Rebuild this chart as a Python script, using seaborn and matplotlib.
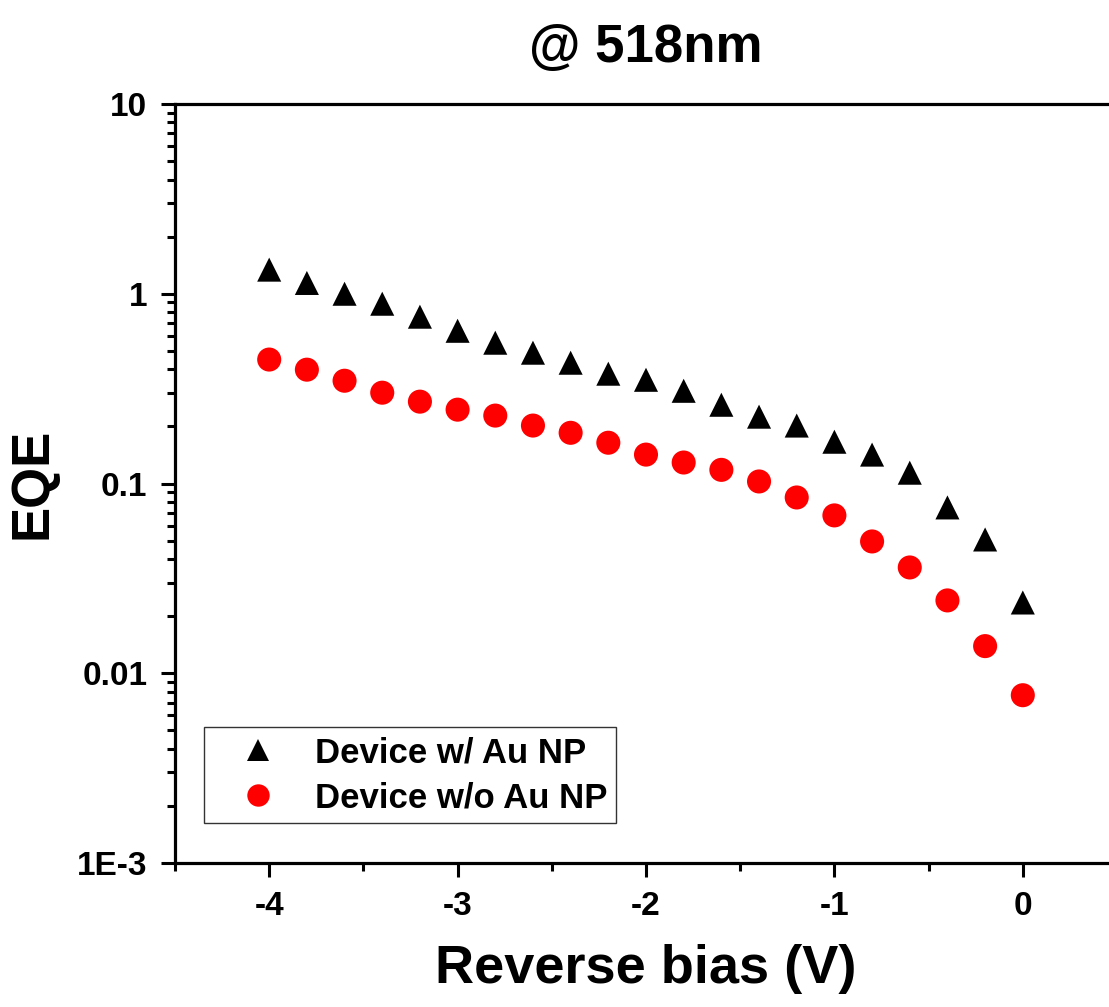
import numpy as np
import pandas as pd
import matplotlib
matplotlib.use("Agg")
import matplotlib.pyplot as plt
import matplotlib.ticker as mticker
import seaborn as sns

bias = [-4.0, -3.8, -3.6, -3.4, -3.2, -3.0, -2.8, -2.6, -2.4, -2.2, -2.0,
        -1.8, -1.6, -1.4, -1.2, -1.0, -0.8, -0.6, -0.4, -0.2, 0.0]
eqe_with_au = [1.34, 1.14, 1.0, 0.886, 0.757, 0.638, 0.552, 0.489, 0.433, 0.379, 0.352,
               0.308, 0.26, 0.225, 0.202, 0.166, 0.142, 0.114, 0.0748, 0.0507, 0.0236]
eqe_without_au = [0.45, 0.398, 0.348, 0.301, 0.27, 0.245, 0.228, 0.202, 0.185, 0.164, 0.142,
                  0.129, 0.118, 0.1025, 0.0844, 0.0679, 0.0495, 0.0361, 0.0242, 0.0139, 0.00766]
series_names = ["Device w/ Au NP", "Device w/o Au NP"]
ytick_vals = [1e-3, 1e-2, 1e-1, 1, 10]
ytick_labels = ["1E-3", "0.01", "0.1", "1", "10"]
xtick_vals = [-4, -3, -2, -1, 0]
xtick_labels = ["-4", "-3", "-2", "-1", "0"]

df = pd.DataFrame({
    "bias": bias * 2,
    "eqe": eqe_with_au + eqe_without_au,
    "series": [series_names[0]] * len(bias) + [series_names[1]] * len(bias),
})

sns.set_theme(style="white")
plt.rcParams['font.family'] = ['Liberation Sans', 'DejaVu Sans']
plt.rcParams['font.weight'] = 'bold'
plt.rcParams['text.color'] = 'black'
plt.rcParams['axes.labelcolor'] = 'black'
plt.rcParams['xtick.color'] = 'black'
plt.rcParams['ytick.color'] = 'black'

fig = plt.figure(figsize=(11.09, 10.07), dpi=100)
ax = fig.add_axes([175/1109, 1 - 863/1007, (1117 - 175)/1109, (863 - 104)/1007])

sns.scatterplot(data=df, x="bias", y="eqe", hue="series", style="series",
                hue_order=series_names, style_order=series_names,
                palette={series_names[0]: "black", series_names[1]: "#ff0000"},
                markers={series_names[0]: "^", series_names[1]: "o"},
                s=260, linewidth=0, ax=ax, legend=True)
for coll, size in zip(ax.collections, [300, 175]):
    coll.set_sizes([size])

ax.set_yscale("log")
ax.set_ylim(1e-3, 10)
ax.set_xlim(-4.5, 0.5)

ax.set_yticks(ytick_vals)
ax.yaxis.set_major_formatter(mticker.FixedFormatter(ytick_labels))
ax.yaxis.set_minor_locator(mticker.LogLocator(base=10, subs=np.arange(2, 10)))
ax.yaxis.set_minor_formatter(mticker.NullFormatter())
ax.set_xticks(xtick_vals)
ax.set_xticklabels(xtick_labels)
ax.xaxis.set_minor_locator(mticker.MultipleLocator(0.5))

ax.tick_params(axis="both", which="major", direction="out", length=10, width=2.2,
               labelsize=24, color="black", labelcolor="black",
               bottom=True, left=True, top=False, right=False, pad=10)
ax.tick_params(axis="both", which="minor", direction="out", length=6, width=2.2,
               color="black", bottom=True, left=True, top=False, right=False)
for lab in ax.get_xticklabels() + ax.get_yticklabels():
    lab.set_fontweight("bold")

for side in ["left", "bottom", "top", "right"]:
    ax.spines[side].set_visible(True)
    ax.spines[side].set_color("black")
    ax.spines[side].set_linewidth(2.3)

ax.set_xlabel("Reverse bias (V)", fontsize=39, fontweight="bold", labelpad=16, color="black")
ax.set_ylabel("EQE", fontsize=38, fontweight="bold", labelpad=14, color="black")
ax.set_title("@ 518nm", fontsize=38, fontweight="bold", pad=30, color="black")

handles, labels = ax.get_legend_handles_labels()
leg = ax.legend(handles=handles, labels=labels, loc="lower left",
                bbox_to_anchor=(29/942, 40/759), frameon=True, fancybox=False,
                prop={"size": 25, "weight": "bold"}, markerscale=1.0,
                handletextpad=0.35, borderpad=0.25, labelspacing=0.35, handlelength=2.6,
                borderaxespad=0)
leg.get_frame().set_edgecolor("black")
leg.get_frame().set_linewidth(1.0)
for t in leg.get_texts():
    t.set_color("black")

fig.savefig("out.png", dpi=100)
